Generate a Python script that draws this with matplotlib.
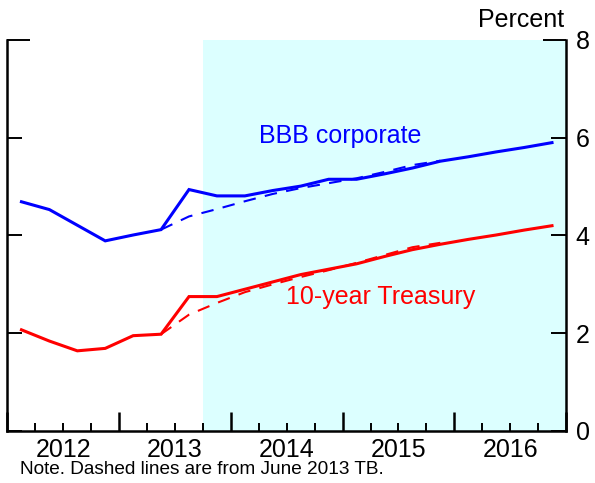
#!/usr/bin/env python3
"""
BBB corporate and 10-year Treasury yields, with June 2013 TB projections
"""

import matplotlib
matplotlib.use('Agg')
import matplotlib.pyplot as plt
import numpy as np

plt.rcParams['font.family'] = ['Liberation Sans', 'DejaVu Sans']

# Quarterly data, 2012Q1 - 2016Q4
quarters = [f'{y}Q{q}' for y in range(2012, 2017) for q in range(1, 5)]

bbb = [4.69, 4.53, 4.21, 3.89, 4.01, 4.12, 4.94, 4.81, 4.81, 4.92,
       5.01, 5.15, 5.15, 5.26, 5.38, 5.52, 5.61, 5.71, 5.80, 5.90]
tsy = [2.07, 1.84, 1.64, 1.69, 1.95, 1.98, 2.75, 2.75, 2.90, 3.05,
       3.20, 3.31, 3.42, 3.57, 3.71, 3.82, 3.92, 4.01, 4.11, 4.20]

# June 2013 TB (dashed), 2013Q2 - 2015Q4
old_quarters = quarters[5:16]
bbb_old = [4.12, 4.39, 4.54, 4.70, 4.85, 4.97, 5.07, 5.17, 5.30, 5.44, 5.53]
tsy_old = [1.98, 2.38, 2.62, 2.84, 3.00, 3.15, 3.29, 3.44, 3.60, 3.76, 3.85]

years = [2012, 2013, 2014, 2015, 2016]
shade_start = '2013Q4'

FS = 18


def qpos(q):
    # middle of the quarter in fractional years
    return int(q[:4]) + (int(q[-1]) - 0.5) / 4


def qstart(q):
    return int(q[:4]) + (int(q[-1]) - 1) / 4


x = [qpos(q) for q in quarters]
x_old = [qpos(q) for q in old_quarters]

fig = plt.figure(figsize=(5.95, 4.83), dpi=100)
ax = fig.add_axes([0.0126, 0.1077, 0.9386, 0.8095])

ax.axvspan(qstart(shade_start), years[-1] + 1, color='#dcffff', lw=0, zorder=0)

ax.plot(x, bbb, color='#0000ff', lw=2.2, solid_joinstyle='miter')
ax.plot(x_old, bbb_old, color='#0000ff', lw=1.5, dashes=(6, 4.5))
ax.plot(x, tsy, color='#ff0000', lw=2.2, solid_joinstyle='miter')
ax.plot(x_old, tsy_old, color='#ff0000', lw=1.5, dashes=(6, 4.5))

ax.text(2014.98, 6.03, 'BBB corporate', color='#0000ff', fontsize=FS,
        ha='center', va='center')
ax.text(2015.34, 2.74, '10-year Treasury', color='#ff0000', fontsize=FS,
        ha='center', va='center')

ax.set_xlim(years[0], years[-1] + 1)
ax.set_ylim(0, 8)

# spines
ax.spines['top'].set_visible(False)
for s in ['left', 'right', 'bottom']:
    ax.spines[s].set_linewidth(1.8)

# y axis: ticks on both sides, labels on the right
ax.set_yticks([0, 2, 4, 6, 8])
ax.tick_params(axis='y', which='major', direction='in', length=11, width=1.4,
               left=True, right=True, labelleft=False, labelright=True,
               labelsize=FS, pad=7)
yt = ax.yaxis.get_major_ticks()[-1]
yt.tick1line.set_markersize(16.5)
yt.tick2line.set_markersize(16.5)

# x axis: long ticks at year starts, short at quarters, labels mid-year
ax.set_xticks(years + [years[-1] + 1], labels=[''] * (len(years) + 1))
minor_pos = [y + f for y in years for f in (0.25, 0.5, 0.75)]
minor_lab = [str(y) if f == 0.5 else '' for y in years for f in (0.25, 0.5, 0.75)]
ax.set_xticks(minor_pos, labels=minor_lab, minor=True)
ax.tick_params(axis='x', which='major', direction='in', length=13.5, width=1.8)
ax.tick_params(axis='x', which='minor', direction='in', length=5.8, width=1.4,
               labelsize=FS, pad=5)

fig.text(0.948, 0.958, 'Percent', fontsize=FS, ha='right', va='center')
fig.text(0.034, 0.027, 'Note. Dashed lines are from June 2013 TB.',
         fontsize=13.7, ha='left', va='center')

fig.savefig('out.png', dpi=100)
